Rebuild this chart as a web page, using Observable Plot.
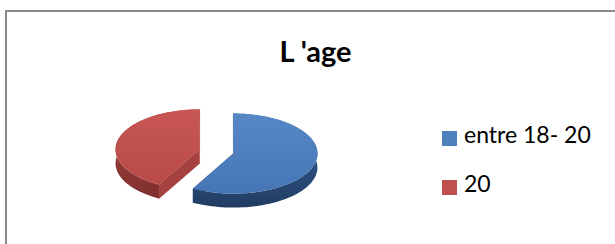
<!DOCTYPE html>
<html>
<head>
<meta charset="utf-8">
<script src="https://cdn.jsdelivr.net/npm/d3@7"></script>
<script src="https://cdn.jsdelivr.net/npm/@observablehq/plot@0.6"></script>
<style>
  html, body { margin: 0; padding: 0; background: #fff; overflow: hidden; }
  #wrap { position: relative; width: 615px; height: 244px; overflow: hidden; font-family: Lato, "Liberation Sans", sans-serif; }
  #frame { position: absolute; left: 5px; top: 10px; width: 700px; height: 300px; border: 2px solid #8a8a8a; box-sizing: border-box; }
  #chart { position: absolute; left: 0; top: 0; }
  #title { position: absolute; left: 315.5px; top: 34px; transform: translateX(-50%); font-weight: 700; font-size: 29px; line-height: 1.2; color: #000; white-space: nowrap; }
  .lg { position: absolute; left: 442px; display: flex; align-items: center; }
  .sw { width: 15px; height: 15px; }
  .lt { position: absolute; left: 464px; font-size: 23px; line-height: 1.2; color: #000; white-space: nowrap; }
</style>
</head>
<body>
<div id="wrap">
  <div id="frame"></div>
  <div id="chart"></div>
  <div id="title"></div>
  <div id="legend"></div>
</div>
<script>
// ---- data ----
const title = "L 'age";
const categories = ["entre 18- 20", "20"];
const values = [58, 42];

// ---- style / layout ----
const palette = {
  top: ["url(#gTop0)", "url(#gTop1)"],
  side: ["url(#gSide0)", "url(#gSide1)"],
  cut: ["#2f5187", "#a5423f"],
  swatch: ["#4f81bd", "#c0504d"]
};
const W = 615, H = 244;
const cx = 216, cy = 151, rx = 84, ry = 40, depth = 14, explode = 17.5;
const ratio = ry / rx;

const data = categories.map((c, i) => ({category: c, value: values[i], i}));
const arcs = d3.pie().sort(null).value(d => d.value)(data);

function pt(c, a, r, dy = 0) {
  return {x: c.x + rx * r * Math.sin(a), y: c.y - ry * r * Math.cos(a) + dy};
}

const marks = [];
// gradient defs
marks.push(() => {
  const defs = d3.create("svg:defs");
  const grads = [
    ["gTop0", [["0%", "#5788c6"], ["100%", "#4575b5"]]],
    ["gTop1", [["0%", "#c85753"], ["100%", "#b84a47"]]],
    ["gSide0", [["0%", "#3a64a0"], ["100%", "#213c62"]]],
    ["gSide1", [["0%", "#a84542"], ["100%", "#7f302e"]]]
  ];
  for (const [id, stops] of grads) {
    const g = defs.append("linearGradient").attr("id", id).attr("x1", 0).attr("y1", 0).attr("x2", 0).attr("y2", 1);
    for (const [o, c] of stops) g.append("stop").attr("offset", o).attr("stop-color", c);
  }
  return defs.node();
});

// draw slices back (red) to front (blue)
const order = arcs.map((a, k) => k).sort((p, q) => arcs[q].index - arcs[p].index);
for (const k of order) {
  const a = arcs[k];
  const i = a.data.i;
  const mid = (a.startAngle + a.endAngle) / 2;
  const c = {x: cx + explode * Math.sin(mid), y: cy - explode * ratio * Math.cos(mid)};
  const n = 90;
  const angs = d3.range(n + 1).map(j => a.startAngle + (a.endAngle - a.startAngle) * j / n);

  // cut faces
  for (const ang of [a.startAngle, a.endAngle]) {
    const p = pt(c, ang, 1);
    const face = [{x: c.x, y: c.y}, p, {x: p.x, y: p.y + depth}, {x: c.x, y: c.y + depth}];
    marks.push(Plot.line(face, {x: "x", y: "y", fill: palette.cut[i], stroke: palette.cut[i], strokeWidth: 0.5}));
  }
  // outer side wall
  const side = angs.map(t => pt(c, t, 1)).concat(angs.slice().reverse().map(t => pt(c, t, 1, depth)));
  marks.push(Plot.line(side, {x: "x", y: "y", fill: palette.side[i], stroke: "none"}));
  // top face
  const topFace = [{x: c.x, y: c.y}].concat(angs.map(t => pt(c, t, 1)));
  marks.push(Plot.line(topFace, {x: "x", y: "y", fill: palette.top[i], stroke: "none"}));
}

const chart = Plot.plot({
  width: W, height: H, margin: 0,
  x: {domain: [0, W], range: [0, W], axis: null},
  y: {domain: [0, H], range: [0, H], axis: null},
  style: {background: "transparent", overflow: "visible"},
  marks
});
document.getElementById("chart").append(chart);

document.getElementById("title").textContent = title;

const legend = document.getElementById("legend");
const sqTops = [131, 180];
const txtTops = [120.5, 169.5];
categories.forEach((c, i) => {
  const sw = document.createElement("div");
  sw.className = "lg";
  sw.style.top = sqTops[i] + "px";
  sw.innerHTML = `<div class="sw" style="background:${palette.swatch[i]}"></div>`;
  legend.append(sw);
  const t = document.createElement("div");
  t.className = "lt";
  t.style.top = txtTops[i] + "px";
  t.textContent = c;
  legend.append(t);
});
</script>
</body>
</html>
